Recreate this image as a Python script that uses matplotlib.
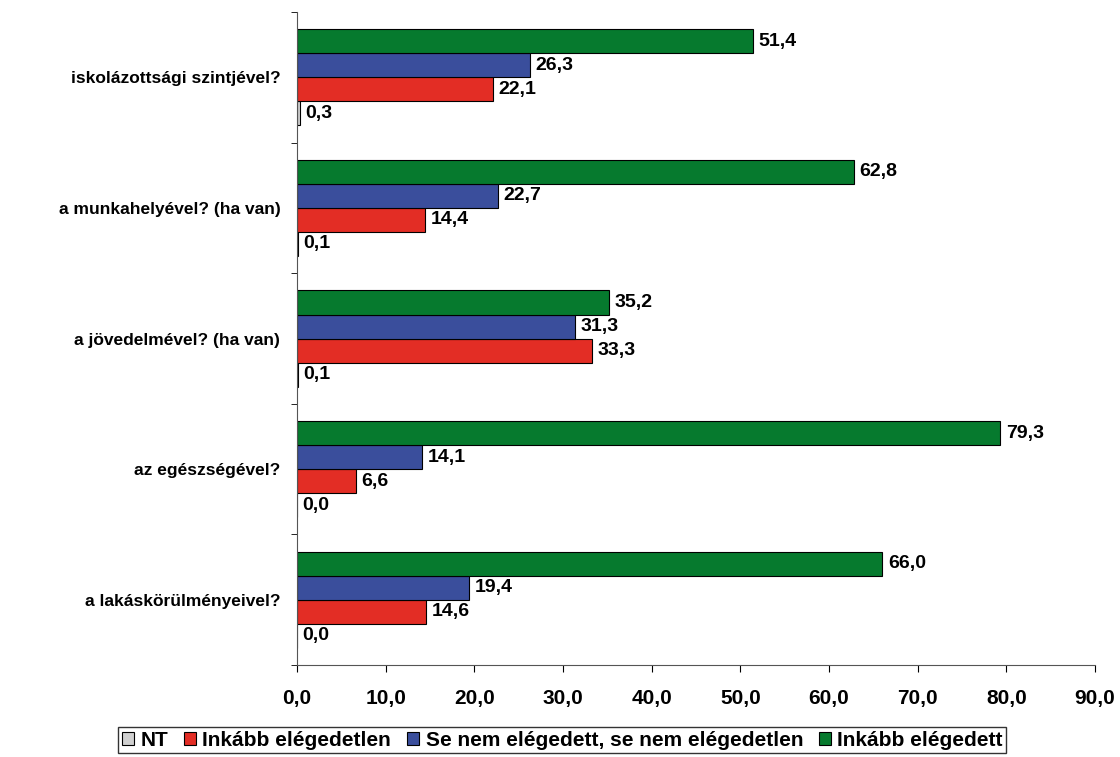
import matplotlib.pyplot as plt
import numpy as np

plt.rcParams['font.family'] = ['Liberation Sans', 'DejaVu Sans']
plt.rcParams['font.weight'] = 'bold'

# kategóriák alulról felfelé
categories = ['a lakáskörülményeivel?', 'az egészségével?', 'a jövedelmével? (ha van)',
              'a munkahelyével? (ha van)', 'iskolázottsági szintjével?']
nt = [0.0, 0.0, 0.1, 0.1, 0.3]
inkabb_elegedetlen = [14.6, 6.6, 33.3, 14.4, 22.1]
se_nem = [19.4, 14.1, 31.3, 22.7, 26.3]
inkabb_elegedett = [66.0, 79.3, 35.2, 62.8, 51.4]

series = [('NT', nt, '#d0d0d0'),
          ('Inkább elégedetlen', inkabb_elegedetlen, '#e32d25'),
          ('Se nem elégedett, se nem elégedetlen', se_nem, '#3a4e9c'),
          ('Inkább elégedett', inkabb_elegedett, '#067a2e')]

fig = plt.figure(figsize=(11.2, 7.57), dpi=100)
ax = fig.add_axes([0.2652, 0.1215, 0.9777 - 0.2652, 0.9841 - 0.1215])

y = np.arange(len(categories))
h = 0.184
for i, (name, vals, col) in enumerate(series):
    pos = y + (i - 1.5) * h
    ax.barh(pos, vals, height=h, color=col, edgecolor='black', linewidth=0.8, label=name)
    for p, v in zip(pos, vals):
        ax.annotate(f'{v:.1f}'.replace('.', ','), (v, p), xytext=(4, 0),
                    textcoords='offset points', va='center', ha='left',
                    fontsize=14, fontweight='bold')

ax.set_xlim(0, 90)
ax.set_ylim(-0.5, len(categories) - 0.5)
ax.set_xticks(np.arange(0, 91, 10))
ax.set_xticklabels([f'{t:.1f}'.replace('.', ',') for t in np.arange(0, 91, 10)],
                   fontsize=15, fontweight='bold')
ax.tick_params(axis='x', length=5, pad=12)
ax.set_yticks(y)
ax.set_yticklabels(categories, fontsize=12.5, fontweight='bold')
ax.tick_params(axis='y', length=0, pad=12)
ax.set_yticks(np.arange(-0.5, len(categories), 1), minor=True)
ax.tick_params(axis='y', which='minor', length=4)
for s in ['top', 'right']:
    ax.spines[s].set_visible(False)
ax.spines['left'].set_color('#555555')
ax.spines['bottom'].set_color('#555555')

leg = fig.legend(loc='lower center', bbox_to_anchor=(0.502, -0.008), ncol=4, frameon=True,
                 fancybox=False, edgecolor='black', handlelength=0.6,
                 handleheight=0.6, handletextpad=0.3, columnspacing=0.75,
                 borderpad=0.15, prop={'weight': 'bold', 'size': 15})
leg.get_frame().set_linewidth(1.0)

fig.savefig('out.png', dpi=100)
